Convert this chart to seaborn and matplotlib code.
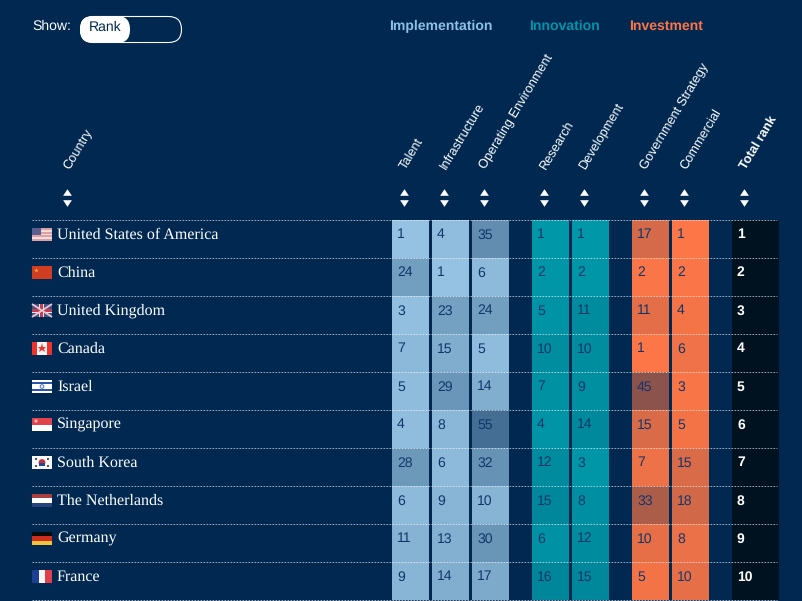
#!/usr/bin/env python3
"""AI readiness ranking table, drawn as one-column heatmaps on a navy page."""

import pandas as pd
import matplotlib
matplotlib.use("Agg")
import matplotlib.pyplot as plt
import seaborn as sns
from matplotlib.colors import LinearSegmentedColormap
from matplotlib.patches import Rectangle, Circle, FancyBboxPatch

W, H = 803, 601
BG = "#002851"
BLUE = "#96C3E3"
TEAL = "#0098A9"
ORANGE = "#FF7747"
BLACK = "#00111F"

countries = ["United States of America", "China", "United Kingdom", "Canada", "Israel",
             "Singapore", "South Korea", "The Netherlands", "Germany", "France"]
talent = [1, 24, 3, 7, 5, 4, 28, 6, 11, 9]
infrastructure = [4, 1, 23, 15, 29, 8, 6, 9, 13, 14]
operating = [35, 6, 24, 5, 14, 55, 32, 10, 30, 17]
research = [1, 2, 5, 10, 7, 4, 12, 15, 6, 16]
development = [1, 2, 11, 10, 9, 14, 3, 8, 12, 15]
government = [17, 2, 11, 1, 45, 15, 7, 33, 10, 5]
commercial = [1, 2, 4, 6, 3, 5, 15, 18, 8, 10]
total_rank = [1, 2, 3, 4, 5, 6, 7, 8, 9, 10]

# name, values, colour, left edge in px, width in px
columns = [
    ("Talent", talent, BLUE, 392, 37),
    ("Infrastructure", infrastructure, BLUE, 432, 37),
    ("Operating Environment", operating, BLUE, 472, 37),
    ("Research", research, TEAL, 532, 37),
    ("Development", development, TEAL, 572, 37),
    ("Government Strategy", government, ORANGE, 632, 37),
    ("Commercial", commercial, ORANGE, 672, 37),
    ("Total rank", total_rank, BLACK, 732, 47),
]

# stripes top to bottom for each flag
flag_stripes = {
    "United States of America": ["#DDA0A4", "#F0DCDC"] * 3 + ["#DDA0A4"],
    "China": ["#D13D20"],
    "United Kingdom": ["#4A4F86"],
    "Canada": ["#F6F6F6"],
    "Israel": ["#FFFFFF", "#2D55A5", "#FFFFFF", "#FFFFFF", "#FFFFFF", "#2D55A5", "#FFFFFF"],
    "Singapore": ["#E2434B", "#FFFFFF"],
    "South Korea": ["#F8F8F8"],
    "The Netherlands": ["#A8403F", "#FFFFFF", "#26427F"],
    "Germany": ["#0A0A0A", "#D12D20", "#F2C43C"],
    "France": ["#F6F6F6"],
}

sns.set_theme(style="white")
plt.rcParams["font.family"] = ["Liberation Sans", "DejaVu Sans"]
plt.rcParams["text.hinting"] = "none"

fig = plt.figure(figsize=(W / 100, H / 100), dpi=100, facecolor=BG)

ROW = 38
TOP = 220

# one heatmap per column, the gaps between them are just the page colour
for name, values, color, left, width in columns:
    ax = fig.add_axes([left / W, 1 - (TOP + ROW * 10) / H, width / W, ROW * 10 / H])
    df = pd.DataFrame({name: values}, index=countries)
    cmap = LinearSegmentedColormap.from_list(name, [color, BLACK if color == BLACK else BG])
    sns.heatmap(df, ax=ax, cmap=cmap, vmin=0, vmax=100, cbar=False,
                xticklabels=False, yticklabels=False)
    ax.set_xlabel("")
    ax.set_ylabel("")
    for i, v in enumerate(values):
        if color == BLACK:
            ax.text(5 / width, i + 0.39, str(v), color="white", fontsize=10, weight="bold",
                    ha="left", va="center")
        else:
            ax.text(5 / width, i + 0.39, str(v), color="#12366A", fontsize=10.1,
                    ha="left", va="center")

# overlay in pixel coordinates for the header, rules and flags
top = fig.add_axes([0, 0, 1, 1], facecolor="none")
top.set_xlim(0, W)
top.set_ylim(H, 0)
top.axis("off")

# rules
for i in range(11):
    y = TOP + i * ROW - 0.5
    top.plot([32, 777], [y, y], color="white", alpha=0.6, lw=0.72,
             linestyle=(0, (1.7, 1.3)), dash_capstyle="butt")


def draw_flag(name, y):
    x = 32
    stripes = flag_stripes[name]
    h = 13 / len(stripes)
    for i, c in enumerate(stripes):
        top.add_patch(Rectangle((x, y + i * h), 20, h, color=c, lw=0))
    if name == "United States of America":
        top.add_patch(Rectangle((x, y), 9.5, 7, color="#5A5F8F", lw=0))
    elif name == "China":
        top.plot([x + 4], [y + 3.5], marker="*", ms=3.5, color="#E8B030", mew=0)
    elif name == "United Kingdom":
        top.plot([x, x + 20], [y, y + 13], color="#E8C8D0", lw=1.3, solid_capstyle="butt")
        top.plot([x, x + 20], [y + 13, y], color="#E8C8D0", lw=1.3, solid_capstyle="butt")
        top.add_patch(Rectangle((x + 7.5, y), 5, 13, color="#EFE0E4", lw=0))
        top.add_patch(Rectangle((x, y + 4.5), 20, 4, color="#EFE0E4", lw=0))
        top.add_patch(Rectangle((x + 8.5, y), 3, 13, color="#C0404F", lw=0))
        top.add_patch(Rectangle((x, y + 5.3), 20, 2.4, color="#C0404F", lw=0))
    elif name == "Canada":
        top.add_patch(Rectangle((x, y), 5, 13, color="#F0322A", lw=0))
        top.add_patch(Rectangle((x + 15, y), 5, 13, color="#F0322A", lw=0))
        top.plot([x + 10], [y + 6.2], marker="*", ms=6.5, color="#F0322A", mew=0)
    elif name == "Israel":
        top.add_patch(Circle((x + 10, y + 6.5), 1.8, fc="none", ec="#5A7CC0", lw=0.8))
    elif name == "Singapore":
        top.add_patch(Circle((x + 4, y + 3), 1.6, color="#F4B8B8", lw=0))
    elif name == "South Korea":
        top.add_patch(Circle((x + 10, y + 6.5), 3.4, color="#C8303F", lw=0))
        top.add_patch(Rectangle((x + 6.6, y + 6.8), 6.8, 3.1, color="#1F4A90", lw=0))
        for dx, dy in [(-6, -3.5), (6, -3.5), (-6, 3.5), (6, 3.5)]:
            top.plot([x + 10 + dx], [y + 6.5 + dy], marker="s", ms=1.8, color="#555555", mew=0)
    elif name == "France":
        top.add_patch(Rectangle((x, y), 6.7, 13, color="#1F3F94", lw=0))
        top.add_patch(Rectangle((x + 13.3, y), 6.7, 13, color="#E0404A", lw=0))


for i, name in enumerate(countries):
    draw_flag(name, TOP + 8 + i * ROW)
    top.text(57, TOP + 14.6 + i * ROW, name, color="white", fontsize=11.5,
             family=["Liberation Serif", "DejaVu Serif"], ha="left", va="center")

# show toggle
top.text(32, 26.5, "Show:", color="white", fontsize=10.1, ha="left", va="center")
top.add_patch(FancyBboxPatch((80, 16), 50, 27, boxstyle="round,pad=0,rounding_size=13",
                             fc="white", ec="none"))
top.add_patch(FancyBboxPatch((80.5, 16.5), 101, 26, boxstyle="round,pad=0,rounding_size=13",
                             fc="none", ec="white", lw=0.8))
top.text(105, 27.5, "Rank", color=BG, fontsize=10.1, ha="center", va="center")

# group legend
for label, c, x in [("Implementation", "#8FC1E6", 389), ("Innovation", "#0094A8", 529),
                    ("Investment", "#FF7444", 629)]:
    top.text(x, 26.7, label, color=c, fontsize=10.1, weight="bold", ha="left", va="center")

# rotated headers and sort arrows
up_tri = [(-1, -0.75), (1, -0.75), (0, 0.75)]
down_tri = [(-1, 0.75), (1, 0.75), (0, -0.75)]
headers = [("Country", 67)] + [(c[0], c[3] + 12) for c in columns]
for label, cx in headers:
    bold = label == "Total rank"
    top.text(cx + 2, 170, label, color="white", fontsize=9.2, rotation=59,
             weight="bold" if bold else "normal", rotation_mode="anchor",
             ha="left", va="baseline")
    top.scatter([cx], [192], marker=up_tri, s=40, color="white", linewidths=0)
    top.scatter([cx], [202.5], marker=down_tri, s=40, color="white", linewidths=0)

fig.savefig("out.png", dpi=100, facecolor=BG)
